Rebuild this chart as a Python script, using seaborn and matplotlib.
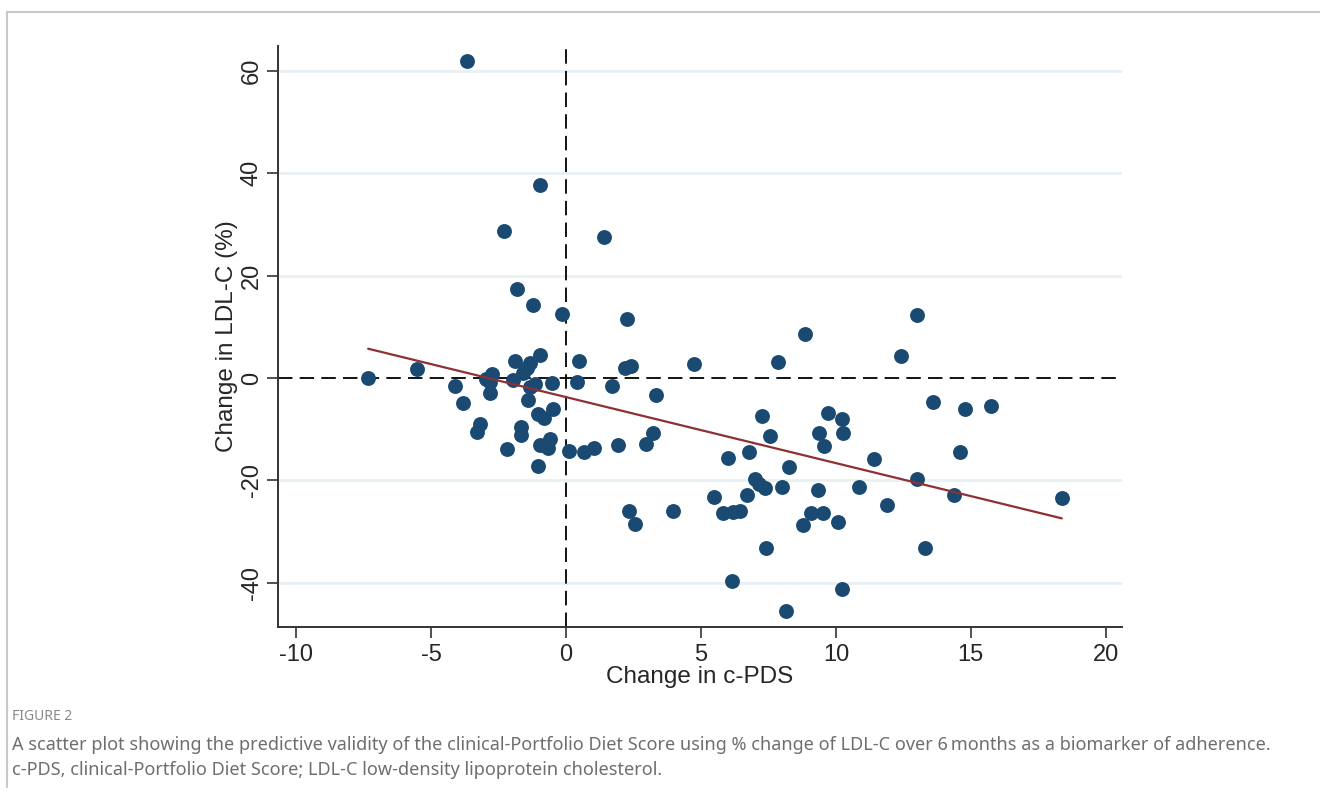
import pandas as pd
import matplotlib.pyplot as plt
import seaborn as sns

# Dados (mudança no c-PDS, mudança no LDL-C %)
cpds_change = [
    -3.67, -0.95, -2.31, 1.41, -1.81, -1.23, -0.16, 2.27, -1.89, -0.95,
    0.48, 2.19, 2.41, 4.75, -5.53, -7.33, -1.58, -1.33, -1.45, -1.95,
    -2.95, -2.74, -2.80, -4.10, -3.81, -3.19, -3.28, -2.81, -1.35, -1.15,
    -1.40, -0.53, -0.47, -1.02, -0.81, -1.68, -1.68, -2.17, -0.96, -0.59,
    -0.65, -1.02, 0.12, 0.41, 0.68, 1.05, 1.69, 1.91, 3.33, 3.21,
    2.96, 2.33, 2.57, 3.98, 7.84, 8.85, 12.43, 12.99, 13.58, 14.79,
    15.73, 7.27, 7.56, 6.00, 6.78, 9.72, 10.21, 9.36, 10.27, 9.56,
    8.27, 11.42, 6.99, 7.14, 7.36, 8.00, 5.48, 6.70, 9.35, 10.85,
    13.00, 11.88, 14.36, 14.58, 18.37, 5.83, 6.20, 6.44, 9.07, 9.51,
    8.79, 10.07, 7.42, 13.30, 6.14, 10.21, 8.14,
]
ldl_change = [
    61.9, 37.6, 28.6, 27.5, 17.4, 14.3, 12.5, 11.6, 3.3, 4.5,
    3.3, 1.9, 2.4, 2.8, 1.8, 0.0, 0.9, 3.0, 2.0, -0.4,
    -0.2, 0.8, -0.8, -1.6, -4.8, -9.0, -10.6, -3.0, -1.7, -1.2,
    -4.3, -0.9, -6.0, -7.1, -7.8, -9.6, -11.2, -13.9, -13.0, -12.0,
    -13.7, -17.1, -14.2, -0.85, -14.5, -13.7, -1.6, -13.1, -3.4, -10.7,
    -12.8, -26.0, -28.5, -26.0, 3.1, 8.5, 4.3, 12.2, -4.6, -6.0,
    -5.5, -7.4, -11.3, -15.7, -14.5, -6.8, -8.0, -10.7, -10.8, -13.3,
    -17.3, -15.9, -19.8, -20.6, -21.4, -21.2, -23.2, -22.8, -21.9, -21.3,
    -19.8, -24.7, -22.9, -14.5, -23.4, -26.3, -26.1, -25.9, -26.4, -26.3,
    -28.6, -28.1, -33.2, -33.1, -39.6, -41.1, -45.4,
]
x_ticks = [-10, -5, 0, 5, 10, 15, 20]
y_ticks = [-40, -20, 0, 20, 40, 60]

df = pd.DataFrame({'cpds': cpds_change, 'ldl': ldl_change})

sns.set_style('white')
plt.rcParams['font.family'] = ['Liberation Sans', 'DejaVu Sans']

fig = plt.figure(figsize=(13.2, 7.98), dpi=100)
ax = fig.add_axes([0.2106, 0.2143, 0.6394, 0.7281])

# grade horizontal clara
for yv in y_ticks:
    if yv != 0:
        ax.axhline(yv, color='#e9f0f3', lw=2, zorder=0)
ax.axhline(0, color='black', lw=1.3, dashes=(8, 4), zorder=1)
ax.axvline(0, color='black', lw=1.3, dashes=(8, 4), zorder=1)

sns.regplot(data=df, x='cpds', y='ldl', ci=None, ax=ax,
            scatter_kws={'s': 115, 'color': '#1a4a72', 'alpha': 1, 'linewidths': 0, 'zorder': 3},
            line_kws={'color': '#8f3035', 'lw': 1.6, 'zorder': 4})

ax.set_xlim(-10.67, 20.6)
ax.set_ylim(-48.6, 64.8)
ax.set_xticks(x_ticks)
ax.set_yticks(y_ticks)
ax.set_xticklabels([str(v) for v in x_ticks])
ax.set_yticklabels([str(v) for v in y_ticks], rotation=90, va='center')
ax.tick_params(axis='both', direction='out', length=8, width=1.2, color='#333333',
               labelsize=17, left=True, bottom=True)
ax.tick_params(axis='x', pad=4)
ax.tick_params(axis='y', pad=3)
ax.set_xlabel('Change in c-PDS', fontsize=17.5, labelpad=0)
ax.set_ylabel('Change in LDL-C (%)', fontsize=17.5, labelpad=2)
sns.despine(ax=ax)
for s in ['left', 'bottom']:
    ax.spines[s].set_color('#333333')
    ax.spines[s].set_linewidth(1.4)

# moldura cinza da figura
fig.add_artist(plt.Line2D([7 / 1320, 7 / 1320], [1 - 787 / 798, 1 - 12 / 798],
                          transform=fig.transFigure, color='#c8c8c8', lw=1.5))
fig.add_artist(plt.Line2D([7 / 1320, 1.0], [1 - 12 / 798, 1 - 12 / 798],
                          transform=fig.transFigure, color='#c8c8c8', lw=1.5))

cap_font = ['Noto Sans', 'DejaVu Sans']
fig.text(12 / 1320, 1 - 717 / 798, 'FIGURE 2', fontsize=10, color='#8a8a8a',
         family=cap_font, fontweight='medium', va='center')
fig.text(12 / 1320, 1 - 745 / 798,
         'A scatter plot showing the predictive validity of the clinical-Portfolio Diet Score '
         'using % change of LDL-C over 6\u2009months as a biomarker of adherence.',
         fontsize=13, color='#6e6e6e', family=cap_font, va='center')
fig.text(12 / 1320, 1 - 770 / 798,
         'c-PDS, clinical-Portfolio Diet Score; LDL-C low-density lipoprotein cholesterol.',
         fontsize=13, color='#6e6e6e', family=cap_font, va='center')

fig.savefig('out.png', dpi=100)
